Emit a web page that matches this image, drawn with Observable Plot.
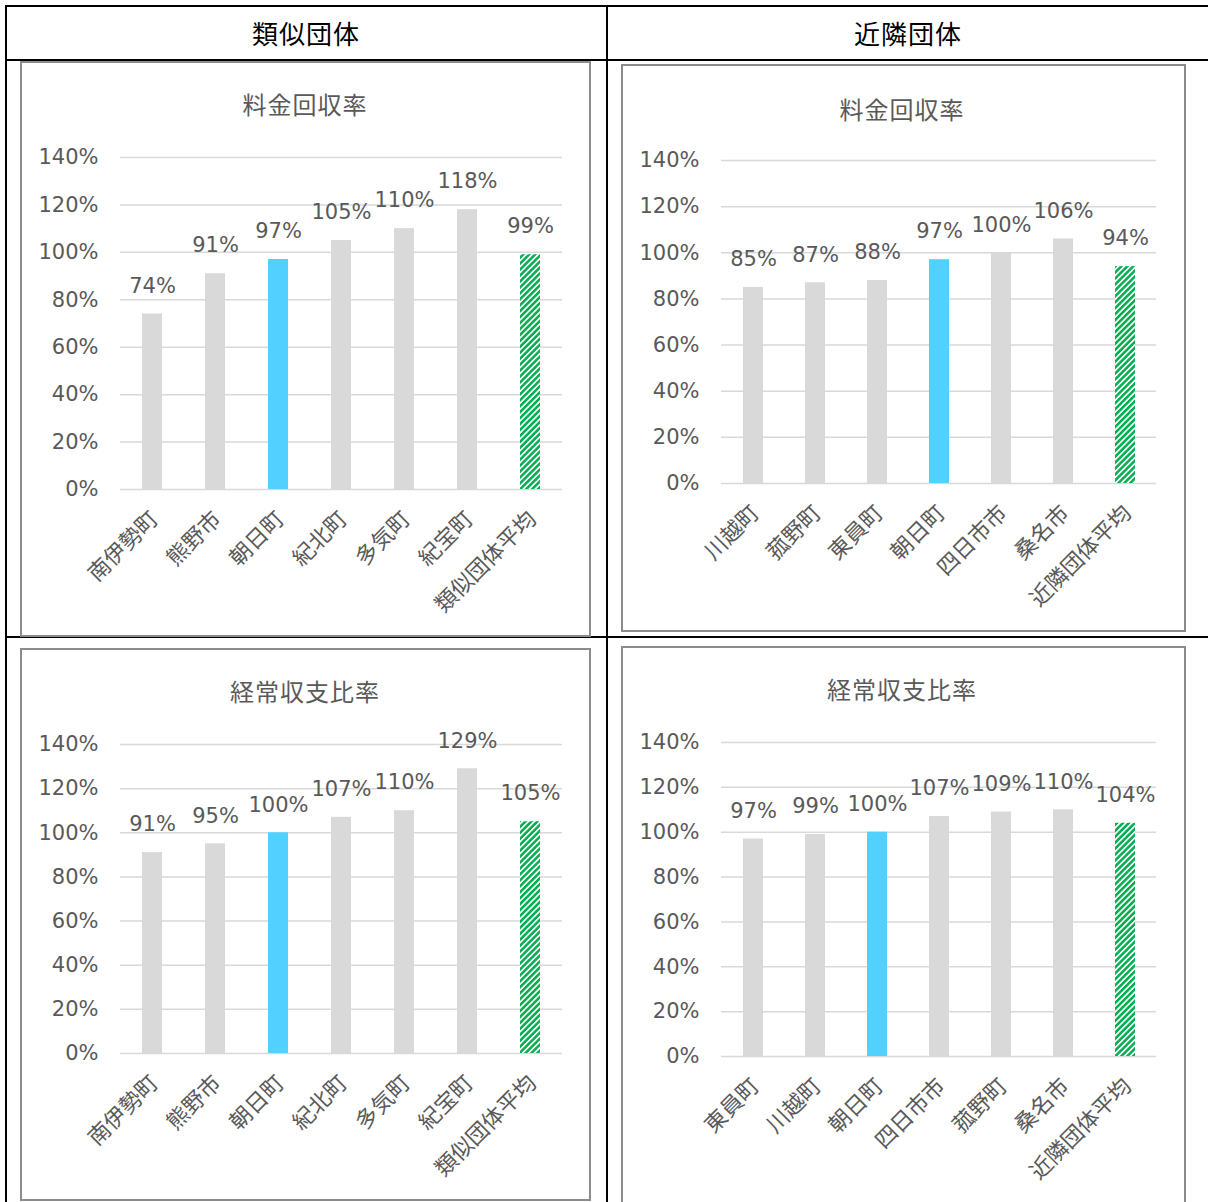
<!DOCTYPE html>
<html lang="ja">
<head>
<meta charset="utf-8">
<script src="https://cdn.jsdelivr.net/npm/d3@7"></script>
<script src="https://cdn.jsdelivr.net/npm/@observablehq/plot@0.6"></script>
<style>
  body { margin: 0; background: #fff; }
  #page { position: relative; width: 1208px; height: 1202px; overflow: hidden; background: #fff;
          font-family: "DejaVu Sans", "Noto Sans CJK JP", sans-serif; }
  .line { position: absolute; background: #000; }
  .head { position: absolute; font-family: "Noto Sans CJK JP", sans-serif; font-size: 26px; color: #000;
          transform: translate(-50%, -50%); white-space: nowrap; letter-spacing: 1px; }
  .box { position: absolute; border: 2px solid #8c8c8c; box-sizing: border-box; }
  .title { position: absolute; font-family: "Noto Sans CJK JP", sans-serif; font-size: 24px; color: #595959;
           transform: translate(-50%, -50%); white-space: nowrap; letter-spacing: 1px; }
  .chart { position: absolute; }
</style>
</head>
<body>
<svg width="0" height="0" style="position:absolute">
  <defs>
    <pattern id="hatch" width="4.2" height="6" patternUnits="userSpaceOnUse" patternTransform="rotate(45)">
      <rect width="4.2" height="6" fill="#ffffff"></rect>
      <rect width="2.5" height="6" fill="#00B050"></rect>
    </pattern>
  </defs>
</svg>
<div id="page"></div>
<script>
// 類似団体 (similar municipalities)
const ruijiNames = ["南伊勢町", "熊野市", "朝日町", "紀北町", "多気町", "紀宝町", "類似団体平均"];
const ruijiRyokin = [74, 91, 97, 105, 110, 118, 99];   // 料金回収率
const ruijiKeijo = [91, 95, 100, 107, 110, 129, 105];  // 経常収支比率

// 近隣団体 (neighbouring municipalities)
const kinrinRyokinNames = ["川越町", "菰野町", "東員町", "朝日町", "四日市市", "桑名市", "近隣団体平均"];
const kinrinRyokin = [85, 87, 88, 97, 100, 106, 94];
const kinrinKeijoNames = ["東員町", "川越町", "朝日町", "四日市市", "菰野町", "桑名市", "近隣団体平均"];
const kinrinKeijo = [97, 99, 100, 107, 109, 110, 104];

const yTicks = [0, 20, 40, 60, 80, 100, 120, 140];
const headers = ["類似団体", "近隣団体"];
const titles = ["料金回収率", "経常収支比率"];
const home = "朝日町";

const page = document.getElementById("page");

function el(cls, css, text) {
  const d = document.createElement("div");
  d.className = cls;
  Object.assign(d.style, css);
  if (text) d.textContent = text;
  page.appendChild(d);
  return d;
}

// table rules
el("line", {left: "5px", top: "5px", width: "1210px", height: "2px"});
el("line", {left: "5px", top: "5px", width: "2px", height: "1210px"});
el("line", {left: "5px", top: "59px", width: "1210px", height: "2px"});
el("line", {left: "606px", top: "5px", width: "2px", height: "1210px"});
el("line", {left: "5px", top: "636px", width: "1210px", height: "2px"});

el("head", {left: "306px", top: "32px"}, headers[0]);
el("head", {left: "908px", top: "32px"}, headers[1]);

const grey = "#D9D9D9", blue = "#52D0FF", ink = "#595959";
const numFont = "\"DejaVu Sans\", \"Noto Sans CJK JP\", sans-serif";
const cjkFont = "\"Noto Sans CJK JP\", sans-serif";

function chart(names, values, title, box, titleXY, m) {
  el("box", {left: box.x + "px", top: box.y + "px", width: box.w + "px", height: box.h + "px"});
  el("title", {left: titleXY[0] + "px", top: titleXY[1] + "px"}, title);
  const data = names.map((name, i) => ({name, value: values[i], avg: i === names.length - 1}));
  const svg = Plot.plot({
    width: box.w, height: box.svgH,
    marginLeft: m.l, marginRight: m.r, marginTop: m.t, marginBottom: m.b,
    style: {background: "transparent", overflow: "visible", fontFamily: numFont, color: ink},
    x: {domain: names, paddingInner: 0.68, paddingOuter: 0.34, axis: null},
    y: {domain: [0, 140], axis: null},
    marks: [
      Plot.ruleY(yTicks, {stroke: grey, strokeWidth: 1.5}),
      Plot.barY(data.filter(d => !d.avg && d.name !== home), {x: "name", y: "value", fill: grey}),
      Plot.barY(data.filter(d => d.name === home), {x: "name", y: "value", fill: blue}),
      Plot.barY(data.filter(d => d.avg), {x: "name", y: "value", fill: "url(#hatch)"}),
      Plot.text(yTicks, {y: d => d, text: d => d + "%", frameAnchor: "left", textAnchor: "end",
        dx: -22, fontSize: 21, fill: ink}),
      Plot.text(data, {x: "name", y: "value", text: d => d.value + "%", dy: -28, fontSize: 21, fill: ink}),
      Plot.text(data, {x: "name", text: "name", frameAnchor: "bottom", rotate: -45, textAnchor: "end",
        dx: 7, dy: 31, fontSize: 22, fontFamily: cjkFont, fill: ink})
    ]
  });
  svg.classList.add("chart");
  svg.style.left = box.x + "px";
  svg.style.top = box.y + "px";
  svg.style.position = "absolute";
  page.appendChild(svg);
}

chart(ruijiNames, ruijiRyokin, titles[0],
  {x: 20, y: 61, w: 571, h: 576, svgH: 575}, [305, 103], {l: 100, r: 29, t: 96, b: 147});
chart(kinrinRyokinNames, kinrinRyokin, titles[0],
  {x: 621, y: 64, w: 565, h: 568, svgH: 567}, [902, 108], {l: 100, r: 30, t: 96, b: 148});
chart(ruijiNames, ruijiKeijo, titles[1],
  {x: 20, y: 648, w: 571, h: 553, svgH: 552}, [305, 690], {l: 100, r: 29, t: 96, b: 147});
chart(kinrinKeijoNames, kinrinKeijo, titles[1],
  {x: 621, y: 646, w: 565, h: 600, svgH: 556}, [902, 688], {l: 100, r: 30, t: 96, b: 146});
</script>
</body>
</html>
